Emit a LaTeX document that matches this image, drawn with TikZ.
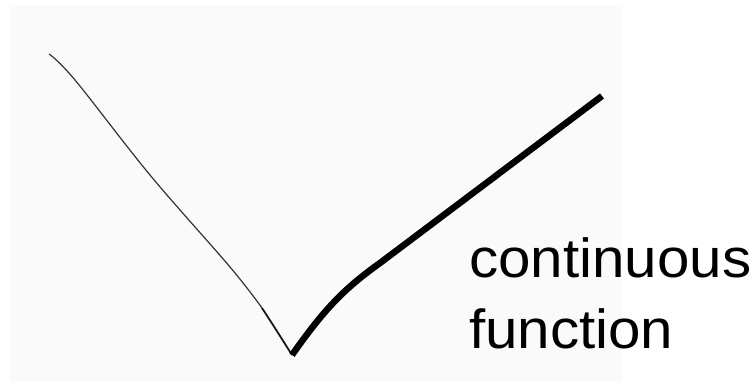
\documentclass[tikz,border=0pt]{standalone}
\usepackage{fontspec}
\setmainfont{Liberation Sans}
\begin{document}
\begin{tikzpicture}[x=1pt,y=-1pt,
  lbl/.style={anchor=base west,inner sep=0pt,font=\fontsize{55}{60}\selectfont,xscale=1.06}]
\useasboundingbox (0,0) rectangle (754,388);
\fill[white] (0,0) rectangle (754,388);
\fill[black!2] (10,5) rectangle (622,381);
\coordinate (top) at (49,54);
\coordinate (bot) at (292,355);
\coordinate (rt) at (602,96);
\draw[line width=1.2pt,black!80] plot[smooth,tension=0.6] coordinates {(top) (75,80) (150,175) (230,267) (262,308)};
\draw[line width=1.8pt,black!90] (262,308) .. controls (275,328) .. (bot);
\draw[line width=6.5pt,line cap=butt] (bot) .. controls (325,308) and (345,288) .. (380,263) -- (rt);
\node[lbl] (c) at (469,277) {continuous};
\node[lbl] (f) at (469,348) {function};
\end{tikzpicture}
\end{document}
